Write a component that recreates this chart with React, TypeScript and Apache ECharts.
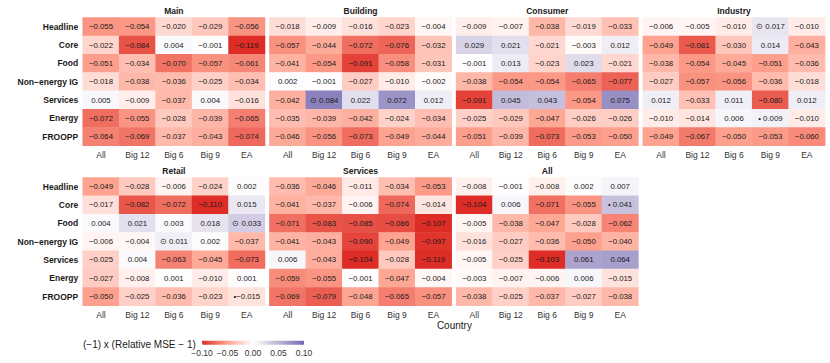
import React, { useEffect, useRef } from "react";
import * as echarts from "echarts";

const rowCategories = ["Headline", "Core", "Food", "Non\u2212energy IG", "Services", "Energy", "FROOPP"];
const colCategories = ["All", "Big 12", "Big 6", "Big 9", "EA"];
const panelNames = ["Main", "Building", "Consumer", "Industry", "Retail", "Services", "All"];

const mainValues = [
  [-0.055, -0.054, -0.020, -0.029, -0.056],
  [-0.022, -0.084, 0.004, -0.001, -0.119],
  [-0.051, -0.034, -0.070, -0.057, -0.061],
  [-0.018, -0.038, -0.036, -0.025, -0.034],
  [0.005, -0.009, -0.037, 0.004, -0.016],
  [-0.072, -0.055, -0.028, -0.039, -0.065],
  [-0.064, -0.069, -0.037, -0.043, -0.074],
];
const buildingValues = [
  [-0.018, -0.009, -0.016, -0.023, -0.004],
  [-0.057, -0.044, -0.072, -0.076, -0.032],
  [-0.041, -0.054, -0.091, -0.058, -0.031],
  [0.002, -0.001, -0.027, -0.010, -0.002],
  [-0.042, 0.084, 0.022, 0.072, 0.012],
  [-0.035, -0.039, -0.042, -0.024, -0.034],
  [-0.046, -0.056, -0.073, -0.049, -0.044],
];
const consumerValues = [
  [-0.009, -0.007, -0.038, -0.019, -0.033],
  [0.029, 0.021, -0.021, -0.003, 0.012],
  [-0.001, 0.013, -0.023, 0.023, -0.021],
  [-0.038, -0.054, -0.054, -0.065, -0.077],
  [-0.091, 0.045, 0.043, -0.054, 0.075],
  [-0.025, -0.029, -0.047, -0.026, -0.026],
  [-0.051, -0.039, -0.073, -0.053, -0.050],
];
const industryValues = [
  [-0.006, -0.005, -0.010, 0.017, -0.010],
  [-0.049, -0.081, -0.030, 0.014, -0.043],
  [-0.038, -0.054, -0.045, -0.051, -0.036],
  [-0.027, -0.057, -0.056, -0.036, -0.018],
  [0.012, -0.033, 0.011, -0.080, 0.012],
  [-0.010, -0.014, 0.006, 0.009, -0.010],
  [-0.049, -0.067, -0.050, -0.053, -0.060],
];
const retailValues = [
  [-0.049, -0.028, -0.006, -0.024, 0.002],
  [-0.017, -0.082, -0.072, -0.110, 0.015],
  [0.004, 0.021, 0.003, 0.018, 0.033],
  [-0.006, -0.004, 0.011, 0.002, -0.037],
  [-0.025, 0.004, -0.063, -0.045, -0.073],
  [-0.027, -0.008, 0.001, -0.010, 0.001],
  [-0.050, -0.025, -0.036, -0.023, -0.015],
];
const servicesValues = [
  [-0.036, -0.046, -0.011, -0.034, -0.053],
  [-0.041, -0.037, -0.006, -0.074, -0.014],
  [-0.071, -0.083, -0.085, -0.086, -0.107],
  [-0.041, -0.043, -0.090, -0.049, -0.097],
  [0.006, -0.043, -0.104, -0.028, -0.119],
  [-0.059, -0.055, -0.001, -0.047, -0.004],
  [-0.069, -0.079, -0.048, -0.065, -0.057],
];
const allValues = [
  [-0.008, -0.001, -0.008, 0.002, 0.007],
  [-0.104, 0.006, -0.071, -0.055, 0.041],
  [-0.005, -0.038, -0.047, -0.028, -0.062],
  [-0.016, -0.027, -0.036, -0.050, -0.040],
  [-0.005, -0.025, -0.103, 0.061, 0.064],
  [-0.003, -0.007, -0.006, 0.006, -0.015],
  [-0.038, -0.025, -0.037, -0.027, -0.038],
];
const panelValues = [mainValues, buildingValues, consumerValues, industryValues, retailValues, servicesValues, allValues];

// significance markers: [panel, row, column, symbol]
const markers: [string, string, string, string][] = [
  ["Building", "Services", "Big 12", "\u2299"],
  ["Industry", "Headline", "Big 9", "\u2299"],
  ["Industry", "Energy", "Big 9", "\u2022"],
  ["Retail", "Food", "EA", "\u2299"],
  ["Retail", "Non\u2212energy IG", "Big 6", "\u2299"],
  ["Retail", "FROOPP", "EA", "\u2022"],
  ["All", "Core", "EA", "\u2022"],
];

const legendTicks = [-0.1, -0.05, 0, 0.05, 0.1];
const colorStops = ["#de2d26", "#fda18e", "#ffffff", "#bbb3d6", "#756bb1"];

const FONT = "'Liberation Sans', Arial, Helvetica, sans-serif";

function fmt(v: number, digits = 3) {
  const s = Math.abs(v).toFixed(digits);
  return (v < 0 ? "\u2212" : "") + s;
}

export default function App() {
  const ref = useRef<HTMLDivElement>(null);
  useEffect(() => {
    if (!ref.current) return;
    const chart = echarts.init(ref.current, null, { renderer: "svg" });

    const lefts = [82.7, 269.4, 456.1, 642.8];
    const tops = [17.6, 177.5];
    const W = 182.3;
    const H = 128.2;

    const grids: any[] = [];
    const xAxes: any[] = [];
    const yAxes: any[] = [];
    const series: any[] = [];
    const titles: any[] = [];

    panelNames.forEach((name, i) => {
      const row = i < 4 ? 0 : 1;
      const col = i < 4 ? i : i - 4;
      const left = lefts[col];
      const top = tops[row];
      grids.push({ left, top, width: W, height: H, containLabel: false });
      xAxes.push({
        type: "category",
        gridIndex: i,
        data: colCategories,
        axisLine: { show: false },
        axisTick: { show: false },
        splitLine: { show: false },
        axisLabel: { fontSize: 8.5, color: "#333", fontFamily: FONT, margin: 5 },
      });
      yAxes.push({
        type: "category",
        gridIndex: i,
        data: rowCategories,
        inverse: true,
        axisLine: { show: false },
        axisTick: { show: false },
        splitLine: { show: false },
        axisLabel: {
          show: col === 0,
          fontSize: 8.5,
          fontWeight: "bold",
          color: "#1a1a1a",
          fontFamily: FONT,
          margin: 4.5,
        },
      });
      titles.push({
        text: name,
        left: left + W / 2,
        top: top - 11,
        textAlign: "center",
        textStyle: { fontSize: 8.5, fontWeight: "bold", color: "#1a1a1a", fontFamily: FONT },
        padding: 0,
      });
      const vals = panelValues[i];
      const data: any[] = [];
      vals.forEach((r, ri) => {
        r.forEach((v, ci) => {
          const m = markers.find(
            (mk) => mk[0] === name && mk[1] === rowCategories[ri] && mk[2] === colCategories[ci]
          );
          const label = (m ? m[3] + (m[3] === "\u2022" && v < 0 ? "" : " ") : "") + fmt(v);
          data.push({ value: [ci, ri, v], lbl: label });
        });
      });
      series.push({
        type: "heatmap",
        xAxisIndex: i,
        yAxisIndex: i,
        data,
        label: {
          show: true,
          fontSize: 7.8,
          color: "#1a1a1a",
          fontFamily: FONT,
          formatter: (p: any) => p.data.lbl,
        },
        itemStyle: { borderWidth: 0 },
        emphasis: { disabled: true },
      });
    });

    // colorbar axis
    const cbLeft = 202;
    const cbTop = 340.7;
    const cbW = 102;
    const cbH = 4;
    grids.push({ left: cbLeft, top: cbTop, width: cbW, height: cbH });
    xAxes.push({
      type: "value",
      gridIndex: 7,
      min: legendTicks[0],
      max: legendTicks[legendTicks.length - 1],
      interval: 0.05,
      axisLine: { show: false },
      axisTick: { show: true, inside: true, length: 1.2, lineStyle: { color: "#ffffff", width: 0.6 } },
      splitLine: { show: false },
      axisLabel: {
        fontSize: 8.5,
        color: "#333",
        fontFamily: FONT,
        margin: 4,
        formatter: (v: number) => fmt(v, 2),
      },
    });
    yAxes.push({ type: "value", gridIndex: 7, show: false, min: 0, max: 1 });

    const option: any = {
      animation: false,
      backgroundColor: "#ffffff",
      title: titles,
      grid: grids,
      xAxis: xAxes,
      yAxis: yAxes,
      visualMap: {
        type: "continuous",
        show: false,
        min: -0.1,
        max: 0.1,
        dimension: 2,
        seriesIndex: series.map((_, i) => i),
        inRange: { color: colorStops },
      },
      series,
      graphic: [
        {
          type: "rect",
          z: -1,
          shape: { x: cbLeft, y: cbTop, width: cbW, height: cbH },
          style: {
            fill: new echarts.graphic.LinearGradient(
              0,
              0,
              1,
              0,
              colorStops.map((c, k) => ({ offset: k / (colorStops.length - 1), color: c }))
            ),
          },
        },
        {
          type: "text",
          x: 83,
          y: 344,
          style: {
            text: "(\u22121) x (Relative MSE \u2212 1)",
            fontSize: 10,
            fontFamily: FONT,
            fill: "#1a1a1a",
            verticalAlign: "middle",
            align: "left",
          },
        },
        {
          type: "text",
          x: 454.4,
          y: 325,
          style: {
            text: "Country",
            fontSize: 10,
            fontFamily: FONT,
            fill: "#1a1a1a",
            verticalAlign: "middle",
            align: "center",
          },
        },
      ],
    };
    chart.setOption(option);
    return () => chart.dispose();
  }, []);

  return (
    <div
      ref={ref}
      style={{ position: "absolute", left: 0, top: 0, width: 830, height: 363, background: "#fff" }}
    />
  );
}
